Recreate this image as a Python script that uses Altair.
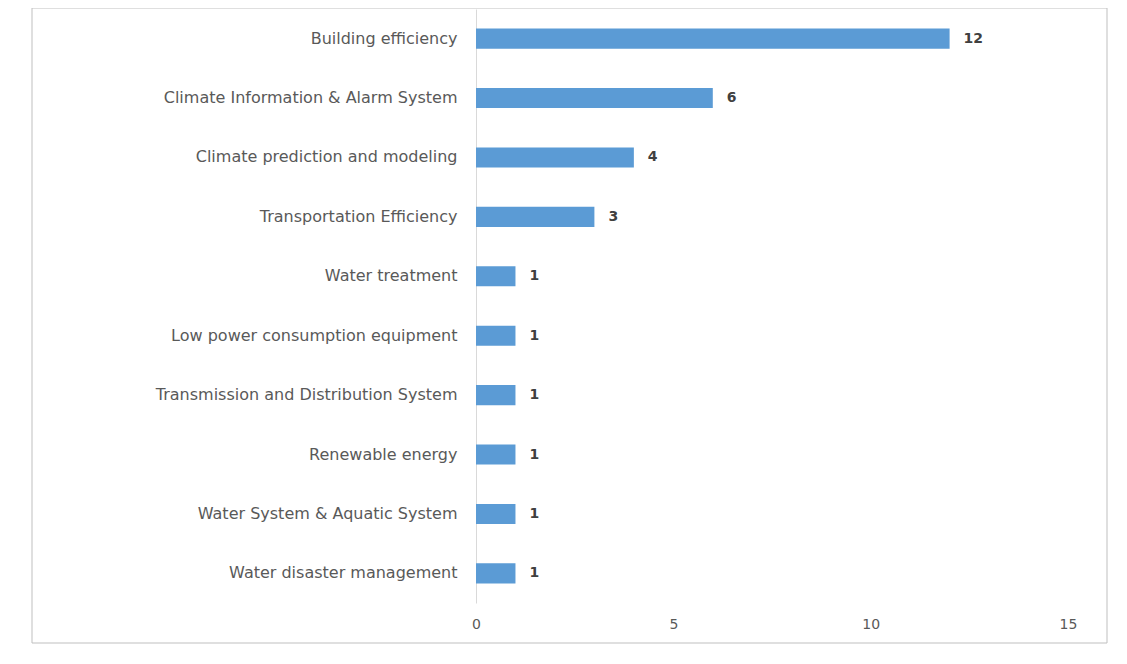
import altair as alt
import pandas as pd

categories = [
    "Building efficiency",
    "Climate Information & Alarm System",
    "Climate prediction and modeling",
    "Transportation Efficiency",
    "Water treatment",
    "Low power consumption equipment",
    "Transmission and Distribution System",
    "Renewable energy",
    "Water System & Aquatic System",
    "Water disaster management",
]
counts = [12, 6, 4, 3, 1, 1, 1, 1, 1, 1]
x_ticks = [0, 5, 10, 15]

df = pd.DataFrame({"category": categories, "count": counts})
frame_df = pd.DataFrame({"k": [0]})

W, H = 592, 594
FONT = "DejaVu Sans"

y_enc = alt.Y(
    "category:N",
    sort=categories,
    title=None,
    scale=alt.Scale(paddingInner=0.663, paddingOuter=0.33),
    axis=alt.Axis(
        domain=True, domainColor="#d9d9d9", ticks=False, labelPadding=19,
        labelFontSize=16, labelColor="#595959", labelFont=FONT, labelLimit=400,
    ),
)
x_enc = alt.X(
    "count:Q",
    title=None,
    scale=alt.Scale(domain=[0, 15], nice=False),
    axis=alt.Axis(
        values=x_ticks, domain=False, ticks=False, grid=False, labelPadding=14,
        labelFlush=False,
        labelFontSize=14, labelColor="#595959", labelFont=FONT,
    ),
)

bars = alt.Chart(df).mark_bar(color="#5b9bd5").encode(x=x_enc, y=y_enc)
labels = alt.Chart(df).mark_text(
    align="left", baseline="middle", dx=14, fontSize=14, fontWeight="bold",
    color="#404040", font=FONT,
).encode(x="count:Q", y=alt.Y("category:N", sort=categories), text="count:Q")

frame = alt.Chart(frame_df).mark_rect(fill=None, stroke="#bfbfbf", strokeWidth=1).encode(
    x=alt.value(-444), x2=alt.value(631), y=alt.value(-1), y2=alt.value(634)
)

chart = alt.layer(frame, bars, labels).properties(
    width=W, height=H,
    autosize=alt.AutoSizeParams(type="none"),
    padding={"left": 468, "top": 1, "right": 41, "bottom": 44},
).configure_view(stroke=None)

chart.save("out.html", embed_options={"renderer": "svg", "actions": False})
